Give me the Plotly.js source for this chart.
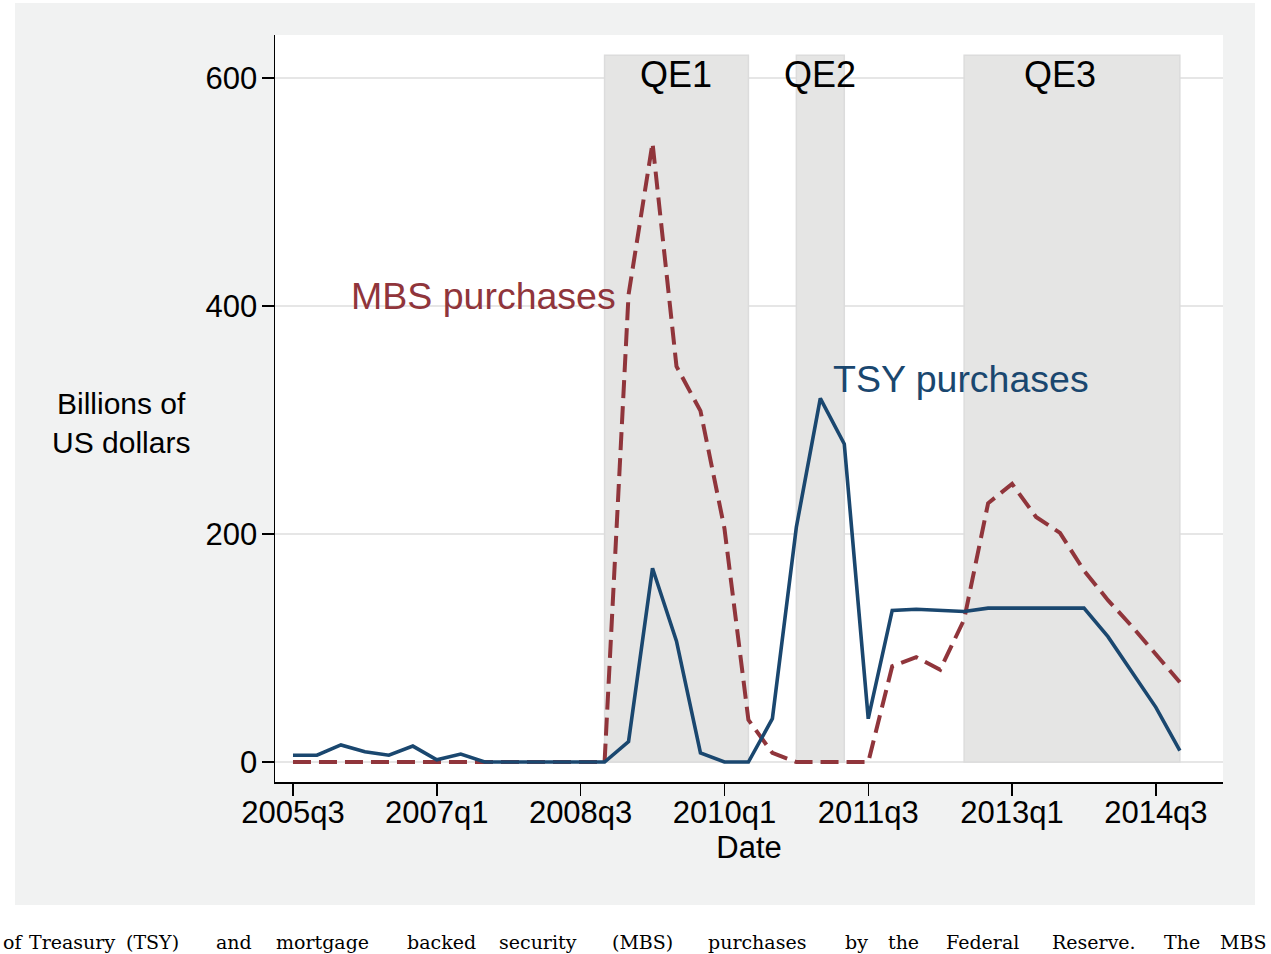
<!DOCTYPE html>
<html>
<head>
<meta charset="utf-8">
<script src="https://cdn.plot.ly/plotly-3.0.1.min.js"></script>
<style>
  html, body { margin: 0; padding: 0; background: #ffffff; }
  #chart { width: 1271px; height: 954px; }
</style>
</head>
<body>
<div id="chart"></div>
<script>
// Quarterly categories 2005q3 .. 2014q4
const quarters = [
  "2005q3","2005q4",
  "2006q1","2006q2","2006q3","2006q4",
  "2007q1","2007q2","2007q3","2007q4",
  "2008q1","2008q2","2008q3","2008q4",
  "2009q1","2009q2","2009q3","2009q4",
  "2010q1","2010q2","2010q3","2010q4",
  "2011q1","2011q2","2011q3","2011q4",
  "2012q1","2012q2","2012q3","2012q4",
  "2013q1","2013q2","2013q3","2013q4",
  "2014q1","2014q2","2014q3","2014q4"
];

// Treasury (TSY) purchases, billions of US dollars
const tsyPurchases = [
  6, 6,
  15, 9, 6, 14,
  2, 7, 0, 0,
  0, 0, 0, 0,
  18, 170, 106, 8,
  0, 0, 38, 206,
  319, 279, 38, 133,
  134, 133, 132, 135,
  135, 135, 135, 135,
  110, 79, 48, 10
];

// Mortgage backed security (MBS) purchases, billions of US dollars
const mbsPurchases = [
  0, 0,
  0, 0, 0, 0,
  0, 0, 0, 0,
  0, 0, 0, 0,
  410, 543, 347, 308,
  205, 37, 8, 0,
  0, 0, 0, 84,
  92, 81, 125, 227,
  244, 215, 201, 168,
  142, 119, 95, 70
];

const xTickVals = ["2005q3","2007q1","2008q3","2010q1","2011q3","2013q1","2014q3"];
const yTickVals = [0, 200, 400, 600];

// QE programmes (start, end, label position, label)
const qeStart = ["2008q4", "2010q4", "2012q3"];
const qeEnd   = ["2010q2", "2011q2", "2014q4"];
const qeLabelAt = ["2009q3", "2011q1", "2013q3"];
const qeLabels = ["QE1", "QE2", "QE3"];
const qeTop = 620;
const qeLabelY = 603;

const seriesLabels = ["MBS purchases", "TSY purchases"];

// Caption below the figure
const captionWords = ["of", "Treasury", "(TSY)", "and", "mortgage", "backed", "security", "(MBS)",
                      "purchases", "by", "the", "Federal", "Reserve.", "The", "MBS"];
const captionWordX = [1, 27, 124, 214, 274, 405, 497, 610, 706, 843, 886, 944, 1050, 1162, 1218];

const NAVY = "#1a476f";
const MAROON = "#90353b";
const FONT = "Liberation Sans, Arial, sans-serif";

// pixel -> paper helpers (plot area spans x 275..1223, y 35..782)
const PL = 275, PR = 1223, PT = 35, PB = 782;
const px2paper = px => (px - PL) / (PR - PL);
const py2paper = py => (PB - py) / (PB - PT);

const traces = [
  {
    x: quarters, y: mbsPurchases, type: "scatter", mode: "lines",
    name: "MBS purchases",
    line: { color: MAROON, width: 4, dash: "18px,8px" },
    hoverinfo: "x+y"
  },
  {
    x: quarters, y: tsyPurchases, type: "scatter", mode: "lines",
    name: "TSY purchases",
    line: { color: NAVY, width: 3.6 },
    hoverinfo: "x+y"
  }
];

const shapes = [
  // outer light-gray graph region
  { type: "rect", xref: "paper", yref: "paper",
    x0: px2paper(15), x1: px2paper(1255), y0: py2paper(905), y1: py2paper(3),
    fillcolor: "#f1f2f2", line: { width: 0 }, layer: "below" },
  // white plot region
  { type: "rect", xref: "paper", yref: "paper", x0: 0, x1: 1, y0: 0, y1: 1,
    fillcolor: "#ffffff", line: { width: 0 }, layer: "below" }
];
for (let i = 0; i < qeStart.length; i++) {
  shapes.push({
    type: "rect", xref: "x", yref: "y",
    x0: qeStart[i], x1: qeEnd[i], y0: 0, y1: qeTop,
    fillcolor: "#e5e5e4", line: { color: "#dcdcdc", width: 1.5 }, layer: "between"
  });
}

const annotations = [];
for (let i = 0; i < qeLabels.length; i++) {
  annotations.push({
    x: qeLabelAt[i], y: qeLabelY, xref: "x", yref: "y",
    text: qeLabels[i], showarrow: false, xanchor: "center", yanchor: "middle",
    font: { family: FONT, size: 36, color: "#000000" }
  });
}
annotations.push({
  x: 2.35, y: 409, xref: "x", yref: "y", text: seriesLabels[0], showarrow: false,
  xanchor: "left", yanchor: "middle", font: { family: FONT, size: 37.5, color: MAROON }
});
annotations.push({
  x: 22.45, y: 336, xref: "x", yref: "y", text: seriesLabels[1], showarrow: false,
  xanchor: "left", yanchor: "middle", font: { family: FONT, size: 37.5, color: NAVY }
});
annotations.push({
  x: px2paper(121), y: py2paper(422.5), xref: "paper", yref: "paper",
  text: "Billions of<br>US dollars", showarrow: false,
  xanchor: "center", yanchor: "middle", align: "center",
  font: { family: FONT, size: 30, color: "#000000" }
});
for (let i = 0; i < captionWords.length; i++) {
  annotations.push({
    x: px2paper(captionWordX[i]), y: py2paper(929), xref: "paper", yref: "paper",
    text: captionWords[i], showarrow: false, xanchor: "left", yanchor: "top",
    font: { family: "DejaVu Serif, Liberation Serif, serif", size: 19, color: "#000000" }
  });
}

const layout = {
  width: 1271, height: 954,
  margin: { l: PL, r: 1271 - PR, t: PT, b: 954 - PB, pad: 0 },
  paper_bgcolor: "#ffffff",
  plot_bgcolor: "rgba(0,0,0,0)",
  showlegend: false,
  font: { family: FONT, color: "#000000" },
  xaxis: {
    type: "category",
    categoryorder: "array", categoryarray: quarters,
    range: [-0.75, 38.8],
    tickmode: "array", tickvals: xTickVals, ticktext: xTickVals,
    ticks: "outside", ticklen: 12, tickwidth: 1.5, tickcolor: "#000000",
    showline: true, linecolor: "#000000", linewidth: 1.5,
    showgrid: false, zeroline: false,
    tickfont: { family: FONT, size: 31, color: "#000000" },
    ticklabelstandoff: -10,
    title: { text: "Date", standoff: 4, font: { family: FONT, size: 31, color: "#000000" } }
  },
  yaxis: {
    range: [-17.5, 637.7],
    tickmode: "array", tickvals: yTickVals, ticktext: yTickVals.map(String),
    ticks: "outside", ticklen: 12, tickwidth: 1.5, tickcolor: "#000000",
    showline: true, linecolor: "#000000", linewidth: 1.5,
    showgrid: true, gridcolor: "#e6e6e6", gridwidth: 2,
    zeroline: false,
    tickfont: { family: FONT, size: 31, color: "#000000" },
    ticklabelstandoff: -2
  },
  shapes: shapes,
  annotations: annotations
};

Plotly.newPlot("chart", traces, layout, { displayModeBar: false, staticPlot: true });
</script>
</body>
</html>
